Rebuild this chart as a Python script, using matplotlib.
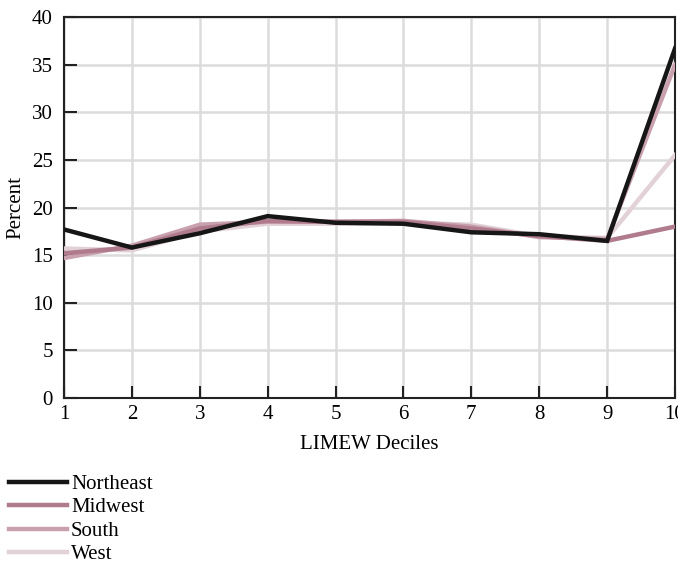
import matplotlib.pyplot as plt
import numpy as np

deciles = [1, 2, 3, 4, 5, 6, 7, 8, 9, 10]
northeast = [17.7, 15.8, 17.3, 19.1, 18.4, 18.3, 17.4, 17.2, 16.5, 36.7]
midwest = [15.2, 15.8, 17.8, 18.6, 18.5, 18.5, 17.8, 17.0, 16.5, 18.0]
south = [14.7, 16.0, 18.2, 18.5, 18.5, 18.6, 18.0, 16.9, 16.7, 35.0]
west = [15.7, 15.5, 17.5, 18.3, 18.3, 18.4, 18.2, 17.0, 16.8, 25.5]

names = ['Northeast', 'Midwest', 'South', 'West']
colors = ['#161616', '#b07b8d', '#c9a1ae', '#e2d2d8']

plt.rcParams['font.family'] = ['Liberation Serif', 'DejaVu Serif']

fig = plt.figure(figsize=(6.78, 5.69), dpi=100)
ax = fig.add_axes([0.0944, 0.3005, 0.9012, 0.6695])

# draw lighter series first so black ends up on top
for vals, name, c in reversed(list(zip([northeast, midwest, south, west], names, colors))):
    ax.plot(deciles, vals, color=c, linewidth=3.2, label=name,
            solid_joinstyle='miter', zorder=3)

ax.set_xlim(1, 10)
ax.set_ylim(0, 40)
ax.set_xticks(deciles)
ax.set_yticks(np.arange(0, 41, 5))
ax.grid(True, color='#dcdcdc', linewidth=1.8, zorder=0)
ax.set_axisbelow(True)
ax.tick_params(direction='in', length=9, width=1.5, color='#222222',
               labelsize=15)
ax.tick_params(axis='x', pad=5)
ax.tick_params(axis='y', pad=8)
for s in ax.spines.values():
    s.set_linewidth(1.5)
    s.set_color('#222222')

ax.set_xlabel('LIMEW Deciles', fontsize=15, labelpad=8)
ax.set_ylabel('Percent', fontsize=15, labelpad=5)

handles, labels = ax.get_legend_handles_labels()
handles, labels = handles[::-1], labels[::-1]
fig.legend(handles, labels, loc='upper left', bbox_to_anchor=(0.014, 0.166),
           frameon=False, fontsize=15, handlelength=2.75, handletextpad=0.2,
           labelspacing=0.18, borderaxespad=0, borderpad=0)

fig.savefig('out.png', dpi=100)
